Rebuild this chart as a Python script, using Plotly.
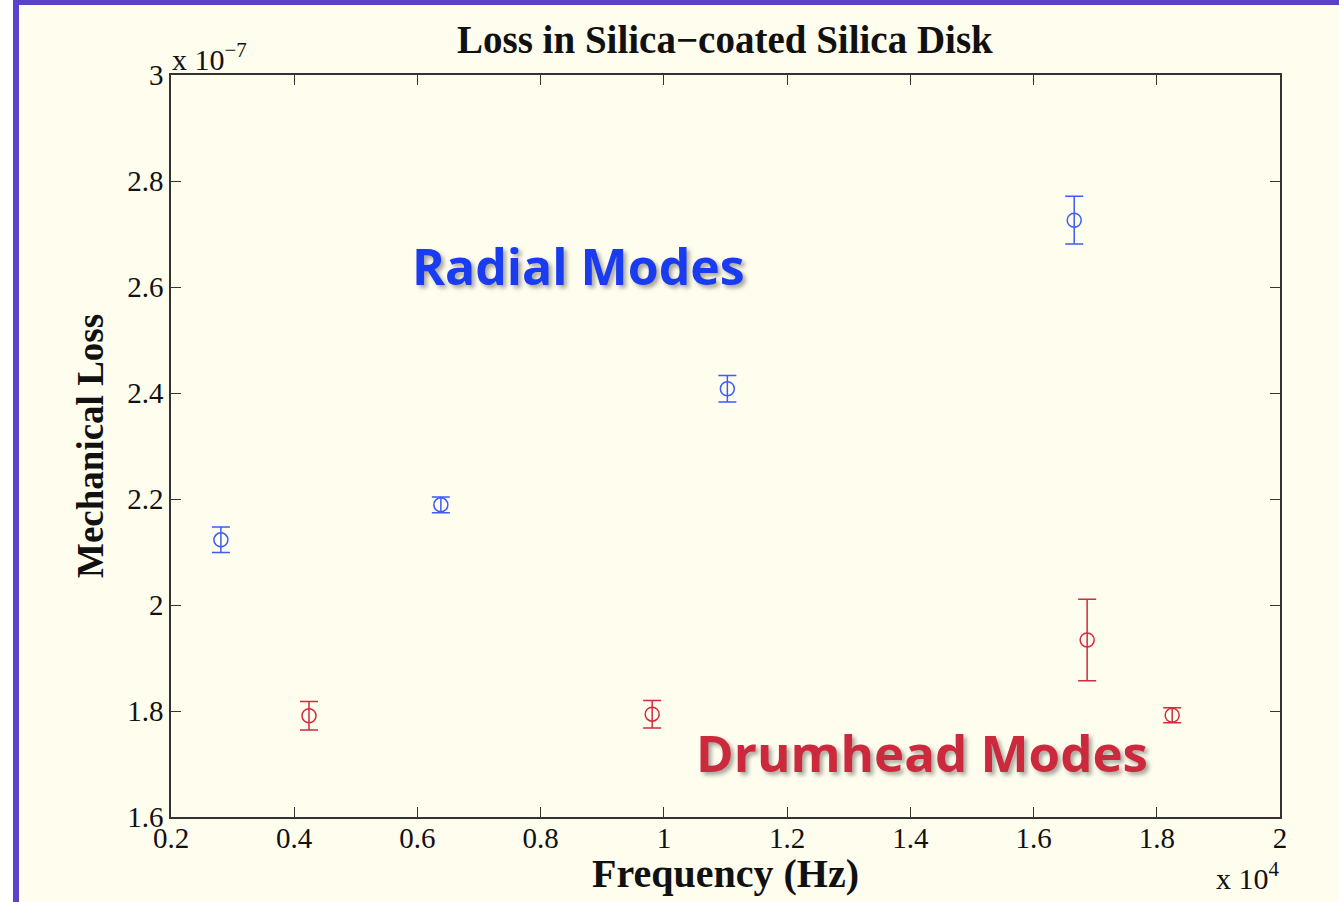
import plotly.graph_objects as go

# Data (frequency in units of 1e4 Hz, loss in units of 1e-7)
radial_freq = [0.281, 0.638, 1.103, 1.666]
radial_loss = [2.123, 2.189, 2.408, 2.726]
radial_err = [0.024, 0.015, 0.025, 0.045]

drum_freq = [0.424, 0.981, 1.687, 1.825]
drum_loss = [1.791, 1.794, 1.934, 1.792]
drum_err = [0.027, 0.026, 0.077, 0.014]

x_ticks = [0.2, 0.4, 0.6, 0.8, 1.0, 1.2, 1.4, 1.6, 1.8, 2.0]
x_ticklabels = ["0.2", "0.4", "0.6", "0.8", "1", "1.2", "1.4", "1.6", "1.8", "2"]
y_ticks = [1.6, 1.8, 2.0, 2.2, 2.4, 2.6, 2.8, 3.0]
y_ticklabels = ["1.6", "1.8", "2", "2.2", "2.4", "2.6", "2.8", "3"]

BG = "#fefdee"
BLUE = "#3d5cf2"
RED = "#d22a3e"
SERIF = "Liberation Serif, Times New Roman, serif"

W, H = 1339, 902
L, R, T, B = 171, 59, 75, 85
PW, PH = W - L - R, H - T - B


def px(p):
    return (p - L) / PW


def py(p):
    return (H - B - p) / PH


fig = go.Figure()
fig.add_trace(go.Scatter(
    x=radial_freq, y=radial_loss, mode="markers",
    marker=dict(symbol="circle-open", size=14, color=BLUE, line=dict(width=1.5, color=BLUE)),
    error_y=dict(type="data", array=radial_err, color=BLUE, thickness=1.5, width=9),
    showlegend=False,
))
fig.add_trace(go.Scatter(
    x=drum_freq, y=drum_loss, mode="markers",
    marker=dict(symbol="circle-open", size=14, color=RED, line=dict(width=1.5, color=RED)),
    error_y=dict(type="data", array=drum_err, color=RED, thickness=1.5, width=9),
    showlegend=False,
))

axis_common = dict(
    showline=True, linecolor="#333333", linewidth=1.5, mirror="ticks",
    ticks="inside", ticklen=10, tickcolor="#333333", tickwidth=1,
    showgrid=False, zeroline=False,
    tickfont=dict(family=SERIF, size=29, color="#111111"),
)

fig.update_xaxes(range=[0.2, 2.0], tickvals=x_ticks, ticktext=x_ticklabels,
                 ticklabelstandoff=-6, **axis_common)
fig.update_yaxes(range=[1.6, 3.0], tickvals=y_ticks, ticktext=y_ticklabels,
                 ticklabelstandoff=0, **axis_common)

annotations = [
    dict(text="<b>Loss in Silica\u2212coated Silica Disk</b>", x=px(725), y=py(40),
         font=dict(family=SERIF, size=39, color="#111111")),
    dict(text="<b>Frequency (Hz)</b>", x=px(725), y=py(873),
         font=dict(family=SERIF, size=40, color="#111111")),
    dict(text="<b>Mechanical Loss</b>", x=px(90), y=py(446), textangle=-90,
         font=dict(family=SERIF, size=37, color="#111111")),
    dict(text="x 10<sup>\u22127</sup>", x=px(170), y=py(57), xanchor="left",
         font=dict(family=SERIF, size=30, color="#111111")),
    dict(text="x 10<sup>4</sup>", x=px(1282), y=py(876), xanchor="right",
         font=dict(family=SERIF, size=30, color="#111111")),
]
for a in annotations:
    a.update(xref="paper", yref="paper", showarrow=False)
    a.setdefault("xanchor", "center")
    a.setdefault("yanchor", "middle")

annotations += [
    dict(text="<b>Radial Modes</b>", x=0.861, y=2.64, xref="x", yref="y", showarrow=False,
         font=dict(family="Open Sans, sans-serif", size=50, color="#1a3cf0",
                   shadow="3px 3px 4px rgba(0,0,0,0.35)")),
    dict(text="<b>Drumhead Modes</b>", x=1.419, y=1.723, xref="x", yref="y", showarrow=False,
         font=dict(family="Open Sans, sans-serif", size=51, color="#cc2a3c",
                   shadow="3px 3px 4px rgba(0,0,0,0.35)")),
]

shapes = [
    dict(type="rect", xref="paper", yref="paper", x0=px(0), x1=px(13), y0=py(H), y1=py(0),
         fillcolor="white", line=dict(width=0), layer="below"),
    dict(type="rect", xref="paper", yref="paper", x0=px(13), x1=px(19), y0=py(H), y1=py(0),
         fillcolor="#5b43c9", line=dict(width=0), layer="below"),
    dict(type="rect", xref="paper", yref="paper", x0=px(13), x1=px(W), y0=py(5), y1=py(0),
         fillcolor="#5b43c9", line=dict(width=0), layer="below"),
]

fig.update_layout(
    width=W, height=H,
    margin=dict(l=L, r=R, t=T, b=B, pad=0),
    paper_bgcolor=BG, plot_bgcolor=BG,
    annotations=annotations, shapes=shapes,
    showlegend=False,
)

fig.write_html(
    "out.html",
    config={"displayModeBar": False},
    post_script="document.body.style.margin='0';document.body.style.overflow='hidden';",
)
